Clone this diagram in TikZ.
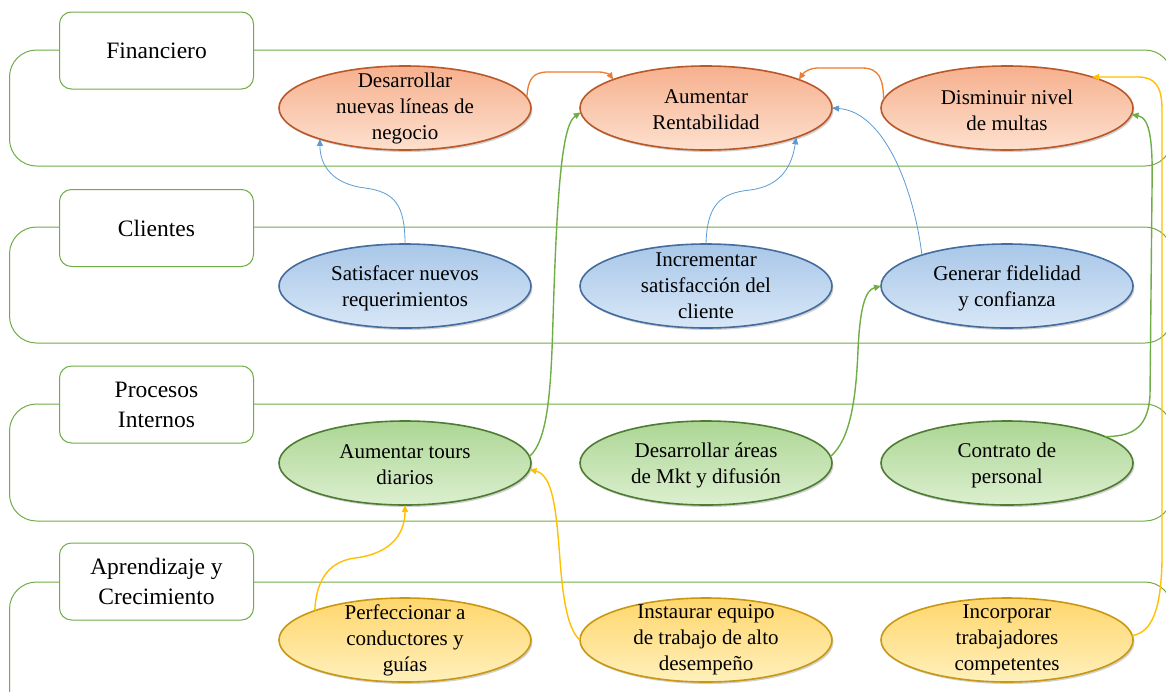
\documentclass[tikz,border=0pt]{standalone}
\usepackage{fontspec}
\setmainfont{Liberation Serif}
\usetikzlibrary{arrows.meta,shapes.geometric,shadows}
\definecolor{laneG}{RGB}{112,173,71}
\definecolor{oMid}{RGB}{246,176,142}
\definecolor{oLight}{RGB}{253,224,206}
\definecolor{oDark}{RGB}{185,88,40}
\definecolor{bMid}{RGB}{168,199,232}
\definecolor{bLight}{RGB}{216,231,247}
\definecolor{bDark}{RGB}{68,108,158}
\definecolor{gMid}{RGB}{172,214,148}
\definecolor{gLight}{RGB}{220,239,207}
\definecolor{gDark}{RGB}{78,124,50}
\definecolor{yMid}{RGB}{255,214,108}
\definecolor{yLight}{RGB}{255,240,188}
\definecolor{yDark}{RGB}{200,152,18}
\definecolor{lineO}{RGB}{237,125,49}
\definecolor{lineB}{RGB}{91,155,213}
\definecolor{lineG}{RGB}{112,173,71}
\definecolor{lineY}{RGB}{255,192,0}
\tikzset{
  lane/.style={draw=laneG, line width=1pt, rounded corners=27pt},
  lbl/.style={draw=laneG, line width=1pt, fill=white, rounded corners=12pt,
    minimum width=194pt, minimum height=77pt, align=center,
    font=\fontsize{23.5}{30}\selectfont},
  ell/.style={shape=ellipse, minimum width=252pt, minimum height=84pt, inner sep=0pt,
    outer sep=0pt, line width=1.6pt,
    drop shadow={shadow xshift=1.5pt, shadow yshift=-2pt, opacity=0.18, fill=black}},
  ellO/.style={ell, draw=oDark, top color=oMid, middle color=oMid, bottom color=oLight},
  ellB/.style={ell, draw=bDark, top color=bMid, middle color=bMid, bottom color=bLight},
  ellG/.style={ell, draw=gDark, top color=gMid, middle color=gMid, bottom color=gLight},
  ellY/.style={ell, draw=yDark, top color=yMid, middle color=yMid, bottom color=yLight},
  etxt/.style={align=center, inner sep=0pt, font=\fontsize{21}{26}\selectfont},
  tip/.style={-{Triangle[length=7pt,width=6pt]}},
  conO/.style={tip, draw=lineO, line width=1.3pt},
  conB/.style={tip, draw=lineB, line width=0.8pt},
  conG/.style={tip, draw=lineG, line width=1.4pt},
  conY/.style={tip, draw=lineY, line width=1.4pt},
}
\begin{document}
\begin{tikzpicture}[x=1pt,y=-1pt]
\useasboundingbox[fill=white] (0,0) rectangle (1166,691);
% lanes
\draw[lane] (9.5,50) rectangle (1172,166);
\draw[lane] (9.5,227) rectangle (1172,343);
\draw[lane] (9.5,404) rectangle (1172,521);
\draw[lane] (9.5,582) rectangle (1172,720);
% labels
\node[lbl] (L1) at (156.5,50.5) {Financiero};
\node[lbl] (L2) at (156.5,228) {Clientes};
\node[lbl] (L3) at (156.5,404.5) {Procesos\\Internos};
\node[lbl] (L4) at (156.5,581.5) {Aprendizaje y\\Crecimiento};
% ellipses
\node[ellO] (f1) at (405,108) {};
\node[ellO] (f2) at (706,108) {};
\node[ellO] (f3) at (1007,108) {};
\node[ellB] (c1) at (405,286) {};
\node[ellB] (c2) at (706,286) {};
\node[ellB] (c3) at (1007,286) {};
\node[ellG] (p1) at (405,463) {};
\node[ellG] (p2) at (706,463) {};
\node[ellG] (p3) at (1007,463) {};
\node[ellY] (a1) at (405,640) {};
\node[ellY] (a2) at (706,640) {};
\node[ellY] (a3) at (1007,640) {};
% texts
\node[etxt] (f1t) at (f1) {Desarrollar\\nuevas líneas de\\negocio};
\node[etxt] (f2t) at (706,110) {Aumentar\\Rentabilidad};
\node[etxt] (f3t) at (1007,110) {Disminuir nivel\\de multas};
\node[etxt] (c1t) at (405,288) {Satisfacer nuevos\\requerimientos};
\node[etxt] (c2t) at (c2) {Incrementar\\satisfacción del\\cliente};
\node[etxt] (c3t) at (1007,288) {Generar fidelidad\\y confianza};
\node[etxt] (p1t) at (405,465) {Aumentar tours\\diarios};
\node[etxt] (p2t) at (706,465) {Desarrollar áreas\\de Mkt y difusión};
\node[etxt] (p3t) at (1007,465) {Contrato de\\personal};
\node[etxt] (a1t) at (a1) {Perfeccionar a\\conductores y\\guías};
\node[etxt] (a2t) at (a2) {Instaurar equipo\\de trabajo de alto\\desempeño};
\node[etxt] (a3t) at (a3) {Incorporar\\trabajadores\\competentes};
% connectors
\draw[conO] (f1.5) .. controls (528,80) and (532,72) .. (548,72) -- (598,72) .. controls (606,72) and (610,75) .. (f2.163);
\draw[conO] (f3.176) .. controls (883,80) and (880,68) .. (862,68) -- (818,68) .. controls (810,68) and (804,72) .. (f2.17);
\draw[conB] (c1.north) .. controls (405,205) and (395,192) .. (365,188) .. controls (332,184) and (320,165) .. (f1.200);
\draw[conB] (c2.north) .. controls (707,205) and (720,193) .. (750,190) .. controls (782,186) and (792,165) .. (f2.-18);
\draw[conB] (c3.160) .. controls (914,190) and (885,112) .. (f2.0);
\draw[conG] (p1.3) .. controls (548,440) and (551,390) .. (553,320) .. controls (557,190) and (562,125) .. (f2.182);
\draw[conG] (p2.3) .. controls (850,440) and (856,400) .. (858,350) .. controls (860,305) and (866,290) .. (c3.180);
\draw[conG] (p3.15) .. controls (1128,436) and (1148,432) .. (1150,395) -- (1152,190) .. controls (1153,140) and (1150,118) .. (f3.-3);
\draw[conY] (a1.162) .. controls (316,585) and (325,562) .. (355,558) .. controls (395,553) and (405,530) .. (p1.south);
\draw[conY] (a2.180) .. controls (568,630) and (563,600) .. (560,560) .. controls (556,505) and (552,475) .. (p1.-3);
\draw[conY] (a3.2) .. controls (1152,632) and (1161,610) .. (1162,560) -- (1162,110) .. controls (1162,86) and (1155,77) .. (1138,77) -- (f3.20);
\end{tikzpicture}
\end{document}
